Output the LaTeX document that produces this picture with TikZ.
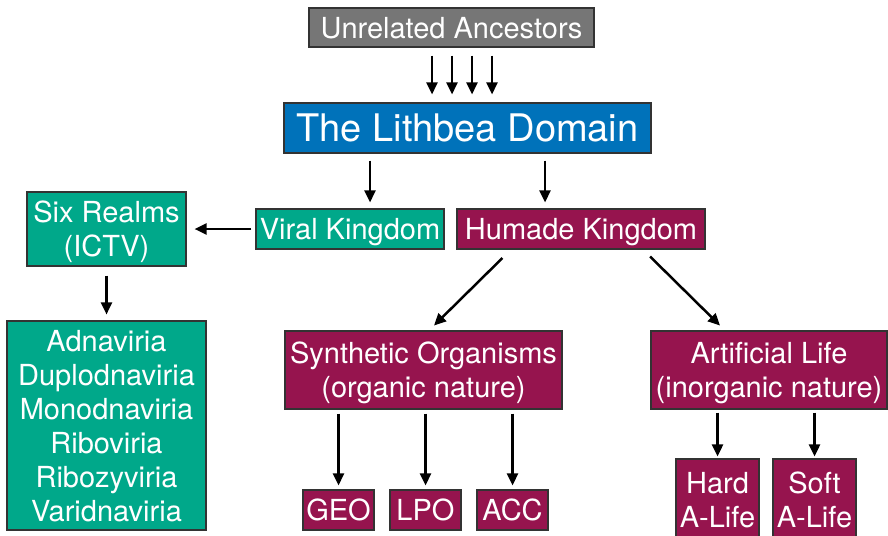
\documentclass[tikz,border=0pt]{standalone}
\usepackage{fontspec}
\setmainfont{TeX Gyre Heros}
\usepackage{tikz}
\usetikzlibrary{arrows.meta}
\definecolor{ancgray}{RGB}{118,118,118}
\definecolor{domblue}{RGB}{0,114,186}
\definecolor{virteal}{RGB}{0,168,138}
\definecolor{hummaroon}{RGB}{150,20,78}

\begin{document}
\begin{tikzpicture}[x=1pt, y=-1pt,
	box/.style={draw=black!80, line width=1.1pt, inner sep=0pt, align=center, text=white,
	  text depth=0pt, font=\fontsize{29}{34}\selectfont},
	vbox/.style={box, fill=virteal},
	hbox/.style={box, fill=hummaroon},
	arr/.style={line width=2.5pt, -{Triangle[length=12pt,width=11pt]}}]
	\useasboundingbox (0,0) rectangle (888,535);
	\node[box, fill=ancgray, minimum width=285, minimum height=39] (anc) at (451.5,27.5) {Unrelated Ancestors};
	\node[box, fill=domblue, minimum width=367, minimum height=50, font=\fontsize{38}{44}\selectfont] (dom) at (467.5,128) {The Lithbea Domain};
	\node[vbox, minimum width=188, minimum height=40] (vir) at (350,229) {Viral Kingdom};
	\node[hbox, minimum width=248, minimum height=40] (hum) at (581,229) {Humade Kingdom};
	\node[vbox, minimum width=159, minimum height=74] (six) at (106.5,229) {Six Realms\\(ICTV)};
	\node[vbox, minimum width=199, minimum height=209] (realms) at (106.5,425.5)
	  {Adnaviria\\Duplodnaviria\\Monodnaviria\\Riboviria\\Ribozyviria\\Varidnaviria};
	\node[hbox, minimum width=277, minimum height=78] (syn) at (423.5,370) {Synthetic Organisms\\(organic nature)};
	\node[hbox, minimum width=236, minimum height=78] (art) at (769,370) {Artificial Life\\(inorganic nature)};
	\node[hbox, minimum width=71, minimum height=40] (geo) at (338.5,510) {GEO};
	\node[hbox, minimum width=71, minimum height=40] (lpo) at (425.5,510) {LPO};
	\node[hbox, minimum width=71, minimum height=40] (acc) at (512.5,510) {ACC};
	\node[hbox, minimum width=83, minimum height=82] (hard) at (717.5,500) {Hard\\A-Life};
	\node[hbox, minimum width=83, minimum height=82] (soft) at (814.5,500) {Soft\\A-Life};

	\foreach \dx in {-19.5,0.5,20.5,40.5}
	  \draw[arr, shorten <=8pt, shorten >=8pt] ([xshift=\dx]anc.south) -- ([xshift=\dx]anc.south |- dom.north);
	\draw[arr, shorten <=7pt, shorten >=6pt] ([xshift=-97.5]dom.south) -- ([xshift=-97.5]dom.south |- vir.north);
	\draw[arr, shorten <=7pt, shorten >=6pt] ([xshift=77.5]dom.south) -- ([xshift=77.5]dom.south |- hum.north);
	\draw[arr, shorten <=4pt, shorten >=8pt] (vir.west) -- (six.east);
	\draw[arr, shorten <=9pt, shorten >=6pt] (six.south) -- (realms.north);
	\draw[arr, shorten <=12pt, shorten >=7pt] ([xshift=-70]hum.south) -- ([xshift=5.5]syn.north);
	\draw[arr, shorten <=10pt, shorten >=7pt] ([xshift=62]hum.south) -- ([xshift=-44]art.north);
	\foreach \leaf in {geo,lpo,acc}
	  \draw[arr, shorten <=4pt, shorten >=4pt] (syn.south -| \leaf.north) -- (\leaf.north);
	\foreach \leaf in {hard,soft}
	  \draw[arr, shorten <=3pt, shorten >=2pt] (art.south -| \leaf.north) -- (\leaf.north);
\end{tikzpicture}
\end{document}
